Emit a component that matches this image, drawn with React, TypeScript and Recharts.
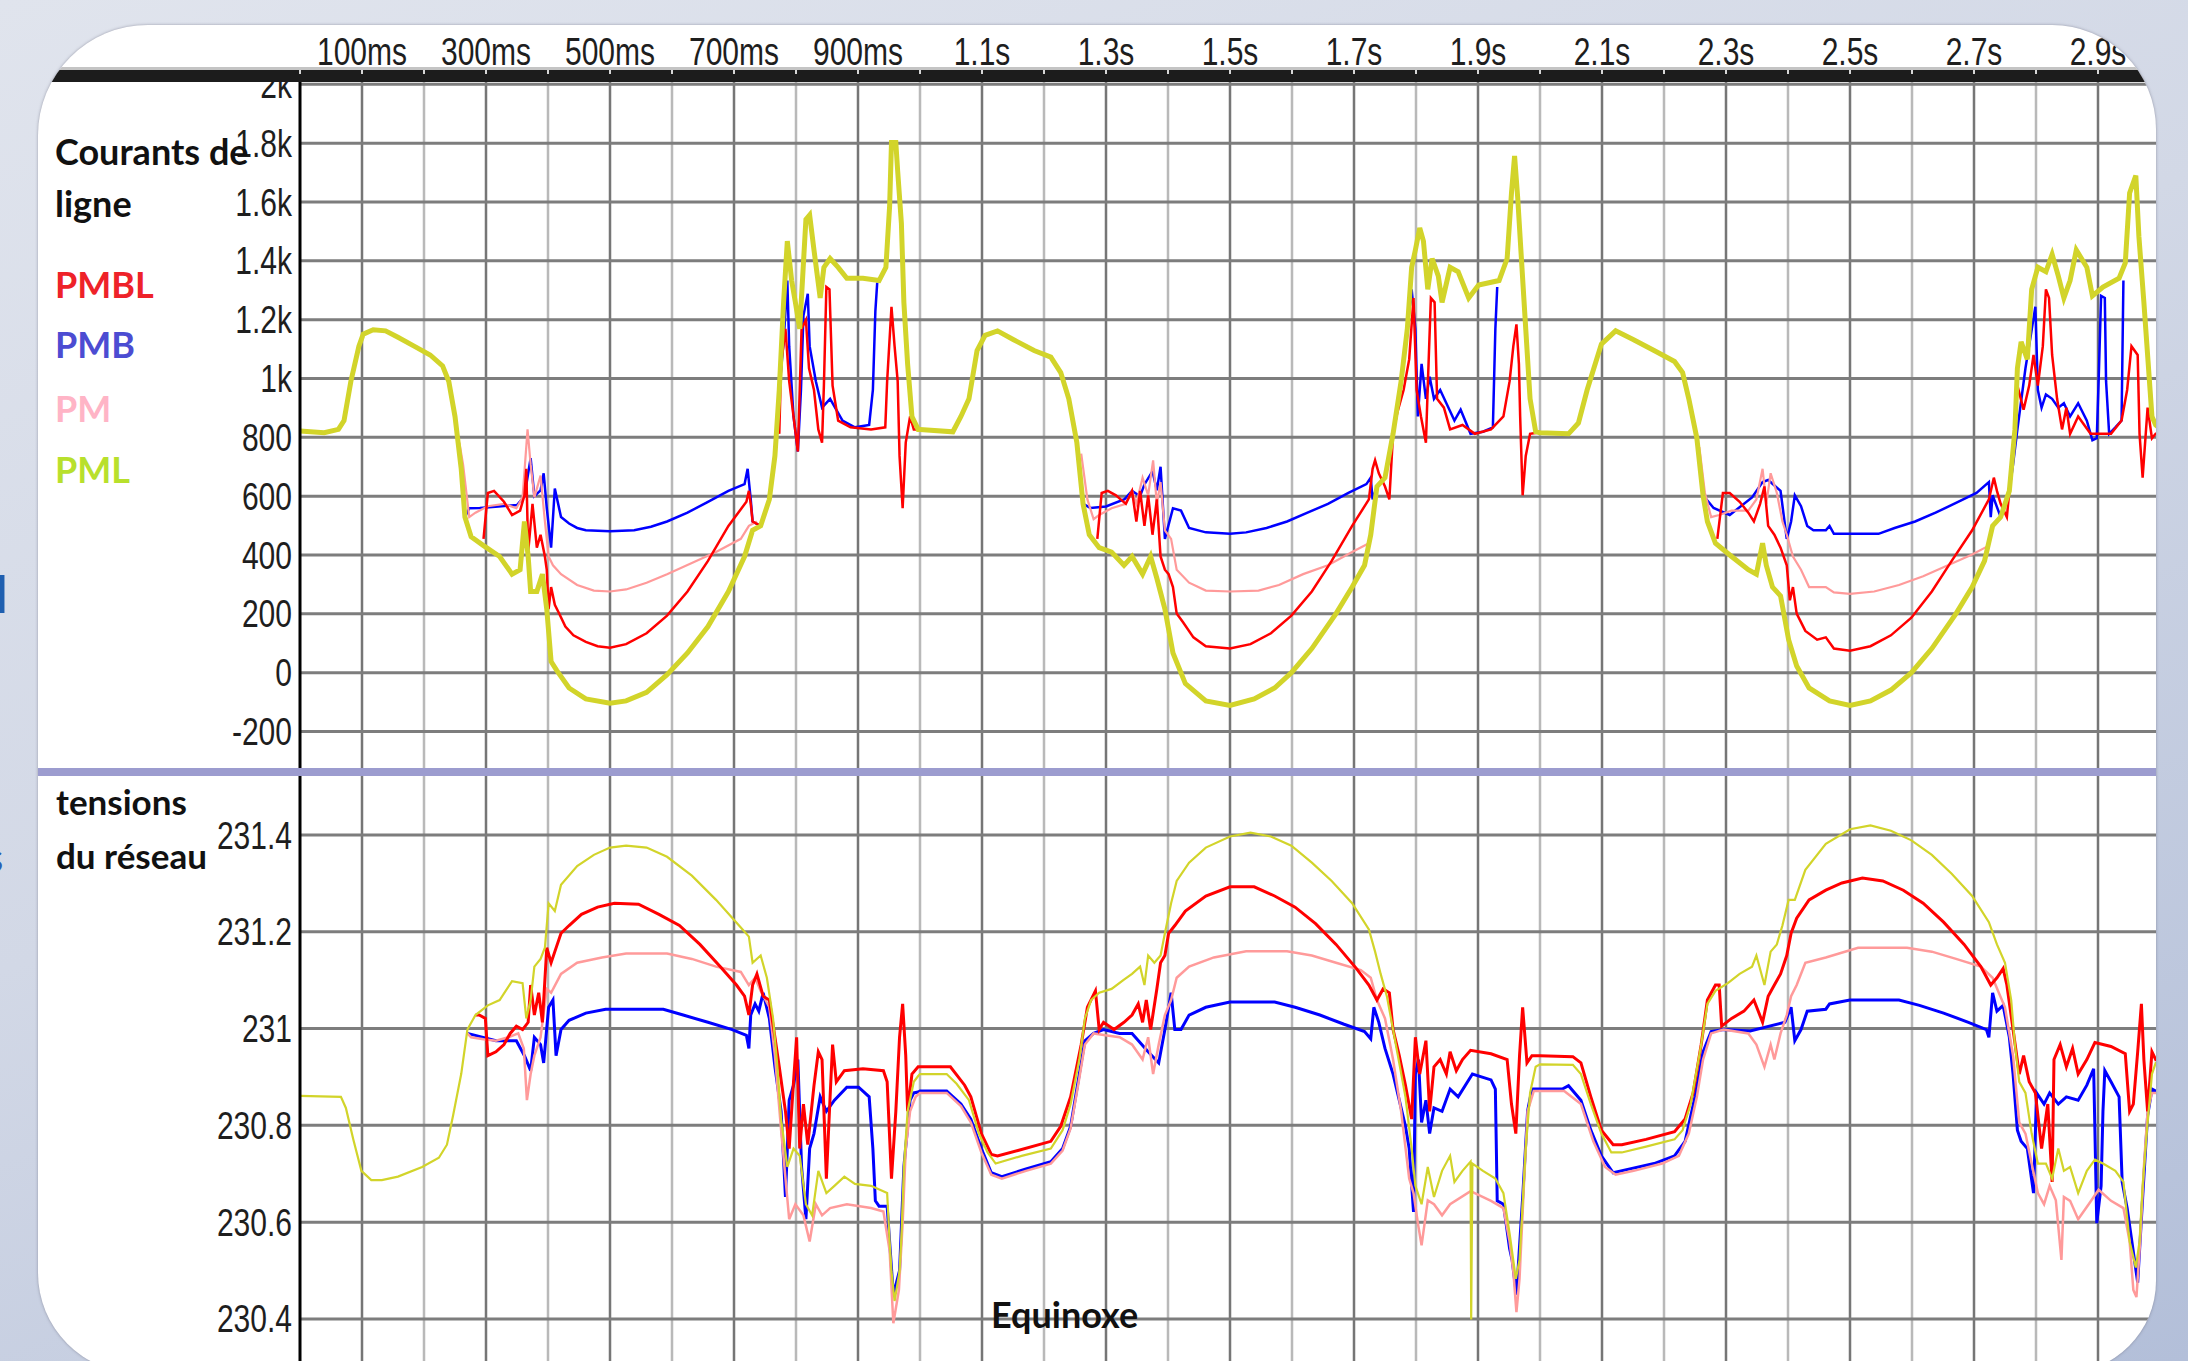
import React from 'react';
import { LineChart, Line, XAxis, YAxis, CartesianGrid } from 'recharts';

type Pt = [number, number | null];

// ---------- axes / tick labels ----------
const timeTicks = [0, 100, 200, 300, 400, 500, 600, 700, 800, 900, 1000, 1100, 1200, 1300, 1400, 1500, 1600, 1700, 1800, 1900, 2000, 2100, 2200, 2300, 2400, 2500, 2600, 2700, 2800, 2900, 3000];
const labelTimes = [100, 300, 500, 700, 900, 1100, 1300, 1500, 1700, 1900, 2100, 2300, 2500, 2700, 2900];
const labelTexts = ['100ms', '300ms', '500ms', '700ms', '900ms', '1.1s', '1.3s', '1.5s', '1.7s', '1.9s', '2.1s', '2.3s', '2.5s', '2.7s', '2.9s'];
const darkTimes = [100, 300, 500, 700, 900, 1100, 1300, 1500, 1700, 1900, 2100, 2300, 2500, 2700, 2900];
const lightTimes = [200, 400, 600, 800, 1000, 1200, 1400, 1600, 1800, 2000, 2200, 2400, 2600, 2800, 3000];

const currentTicks = [2000, 1800, 1600, 1400, 1200, 1000, 800, 600, 400, 200, 0, -200];
const currentTickLabels = ['2k', '1.8k', '1.6k', '1.4k', '1.2k', '1k', '800', '600', '400', '200', '0', '-200'];
const voltageTicks = [231.4, 231.2, 231, 230.8, 230.6, 230.4];
const voltageTickLabels = ['231.4', '231.2', '231', '230.8', '230.6', '230.4'];

// ---------- line currents (A) ----------
const pmlCurrent: Pt[] = [
  [0, 822], [39, 816], [62, 827], [71, 857], [82, 990], [95, 1110], [102, 1151], [118, 1166], [138, 1162], [158, 1140], [184, 1110], [210, 1080], [230, 1043], [240, 990], [250, 871], [260, 693], [266, 529], [276, 462], [296, 432], [322, 395], [342, 335], [355, 350], [362, 514], [368, 395], [372, 276], [382, 276], [391, 335], [398, 216], [405, 38], [414, 8], [434, -52], [461, -89], [500, -104], [526, -96], [559, -67], [592, -7], [625, 67], [658, 157], [691, 276], [717, 395], [730, 484], [743, 499], [757, 589], [766, 737], [773, 961], [780, 1259], [786, 1467], [793, 1333], [799, 1259], [806, 1169], [816, 1541], [822, 1556], [829, 1437], [839, 1274], [845, 1378], [855, 1408], [868, 1378], [882, 1341], [908, 1341], [934, 1333], [945, 1378], [951, 1586], [954, 1802], [961, 1802], [964, 1705], [970, 1527], [974, 1259], [980, 1050], [987, 871], [997, 827],
  [1000, 827], [1053, 819], [1066, 871], [1079, 931], [1092, 1095], [1105, 1147], [1125, 1162], [1151, 1132], [1184, 1095], [1211, 1073], [1227, 1020], [1240, 931], [1253, 782], [1263, 574], [1273, 469], [1289, 425], [1309, 410], [1329, 365], [1342, 395], [1359, 335], [1372, 395], [1382, 321], [1395, 216], [1408, 67], [1428, -37], [1461, -96], [1500, -111], [1539, -89], [1572, -52], [1599, 0], [1632, 82], [1671, 201], [1697, 291], [1717, 365], [1727, 469], [1737, 633], [1750, 663], [1763, 812], [1776, 991], [1786, 1169], [1793, 1378], [1799, 1437], [1806, 1512], [1812, 1467], [1819, 1303], [1826, 1408], [1836, 1348], [1842, 1259], [1855, 1378], [1868, 1363], [1885, 1274], [1901, 1318], [1934, 1333], [1947, 1408], [1954, 1631], [1959, 1757], [1964, 1616], [1970, 1408], [1977, 1169], [1984, 931], [1993, 819],
  [2000, 816], [2046, 812], [2062, 849], [2076, 961], [2099, 1117], [2122, 1162], [2151, 1132], [2184, 1095], [2217, 1058], [2230, 1020], [2240, 931], [2253, 797], [2263, 603], [2270, 514], [2283, 440], [2309, 395], [2336, 350], [2349, 335], [2359, 440], [2365, 365], [2375, 291], [2388, 261], [2401, 112], [2414, 23], [2434, -52], [2467, -96], [2500, -111], [2533, -96], [2566, -59], [2599, 0], [2632, 82], [2671, 201], [2697, 291], [2717, 380], [2730, 499], [2743, 529], [2757, 618], [2766, 827], [2770, 1035], [2776, 1125], [2786, 1065], [2793, 1303], [2803, 1378], [2816, 1363], [2826, 1422], [2836, 1348], [2845, 1274], [2855, 1333], [2865, 1437], [2882, 1378], [2891, 1281], [2908, 1311], [2934, 1341], [2944, 1393], [2951, 1631], [2961, 1690], [2966, 1482], [2974, 1259], [2980, 1080], [2987, 871], [2993, 842], [3000, 830],
];

const pmbCurrent: Pt[] = [
  [266, 529], [273, 559], [290, 560], [320, 565], [350, 570], [362, 600], [372, 729], [378, 600], [388, 620], [393, 678], [398, 560], [405, 425], [411, 626], [421, 529], [434, 507], [447, 492], [461, 484], [500, 481], [539, 484], [566, 496], [592, 514], [625, 544], [658, 581], [691, 618], [717, 641], [722, 693], [727, 589], [730, 514], [743, 499], [757, 589], [766, 737], [773, 961], [780, 1125], [786, 1333], [789, 1110], [796, 871], [803, 752], [808, 961], [812, 1214], [819, 1288], [822, 1110], [832, 991], [842, 901], [855, 931], [875, 857], [895, 834], [918, 842], [924, 961], [928, 1229], [931, 1326],
  [1100, null],
  [1263, 574], [1275, 560], [1300, 565], [1330, 590], [1342, 618], [1355, 600], [1362, 640], [1375, 685], [1382, 620], [1388, 700], [1395, 455], [1408, 559], [1421, 551], [1434, 492], [1461, 477], [1500, 472], [1526, 477], [1559, 492], [1592, 514], [1625, 544], [1658, 574], [1691, 611], [1720, 641], [1727, 663], [1730, 589], [1737, 633], [1750, 663], [1763, 812], [1776, 991], [1786, 1169], [1793, 1303], [1799, 1169], [1803, 871], [1809, 1050], [1816, 931], [1822, 1006], [1829, 931], [1839, 961], [1849, 916], [1862, 857], [1872, 894], [1888, 812], [1908, 819], [1924, 834], [1928, 1169], [1931, 1311],
  [2100, null],
  [2263, 603], [2280, 560], [2306, 536], [2342, 596], [2359, 648], [2368, 655], [2388, 618], [2398, 455], [2405, 514], [2411, 603], [2421, 566], [2431, 499], [2441, 484], [2461, 484], [2467, 499], [2474, 472], [2546, 472], [2572, 492], [2605, 514], [2638, 544], [2671, 577], [2704, 611], [2724, 648], [2727, 529], [2730, 603], [2743, 529], [2757, 618], [2763, 708], [2770, 827], [2783, 1035], [2799, 1244], [2803, 961], [2809, 901], [2816, 946], [2826, 931], [2836, 901], [2845, 916], [2855, 871], [2868, 916], [2882, 857], [2891, 790], [2898, 797], [2901, 991], [2905, 1281], [2911, 1274], [2913, 991], [2918, 812], [2928, 834], [2938, 857], [2941, 1333],
];

const pmblCurrent: Pt[] = [
  [296, 455], [303, 611], [313, 618], [329, 581], [342, 536], [355, 551], [362, 603], [365, 693], [368, 410], [375, 574], [382, 425], [388, 469], [395, 395], [398, 350], [401, 216], [405, 291], [411, 231], [418, 201], [428, 157], [441, 127], [461, 105], [480, 90], [500, 85], [526, 97], [559, 134], [592, 194], [625, 276], [658, 380], [691, 499], [720, 581], [724, 618], [727, 574], [730, 514], [743, 499], [757, 589], [766, 737], [770, 871], [773, 812], [776, 1050], [783, 1169], [789, 991], [796, 871], [803, 752], [809, 1169], [816, 1199], [821, 1035], [829, 961], [836, 827], [842, 782], [845, 976], [849, 1311], [854, 1303], [859, 976], [868, 857], [888, 834], [921, 827], [944, 834], [947, 991], [954, 1244], [959, 1110], [964, 991], [967, 737], [972, 559], [977, 782], [984, 871], [990, 827], [997, 827],
  [1100, null],
  [1286, 455], [1293, 611], [1303, 618], [1316, 603], [1332, 574], [1342, 618], [1349, 514], [1355, 618], [1362, 499], [1368, 603], [1375, 469], [1382, 589], [1388, 395], [1395, 350], [1401, 335], [1408, 291], [1414, 201], [1424, 172], [1441, 120], [1461, 90], [1500, 82], [1533, 97], [1566, 134], [1599, 194], [1632, 276], [1664, 380], [1697, 499], [1724, 589], [1730, 693], [1734, 722], [1740, 678], [1750, 633], [1757, 589], [1763, 812], [1770, 886], [1780, 961], [1789, 1065], [1796, 1274], [1801, 961], [1808, 871], [1816, 782], [1819, 976], [1824, 1274], [1830, 1259], [1834, 931], [1845, 901], [1855, 827], [1875, 842], [1895, 812], [1921, 827], [1941, 871], [1951, 991], [1957, 1110], [1962, 1184], [1966, 1050], [1968, 871], [1972, 603], [1977, 737], [1984, 812], [1995, 816],
  [2100, null],
  [2286, 455], [2295, 611], [2306, 611], [2322, 581], [2336, 544], [2345, 514], [2355, 574], [2362, 633], [2368, 499], [2378, 469], [2388, 425], [2398, 365], [2403, 246], [2408, 291], [2414, 201], [2428, 142], [2447, 112], [2461, 120], [2474, 82], [2500, 75], [2533, 90], [2566, 127], [2599, 187], [2632, 276], [2664, 380], [2697, 484], [2724, 589], [2732, 663], [2737, 618], [2743, 574], [2753, 529], [2757, 618], [2766, 827], [2770, 976], [2780, 894], [2789, 976], [2796, 1080], [2803, 976], [2811, 1110], [2816, 1303], [2821, 1274], [2826, 1080], [2834, 931], [2842, 827], [2849, 901], [2855, 812], [2868, 871], [2888, 812], [2921, 812], [2938, 857], [2947, 961], [2954, 1110], [2964, 1080], [2967, 812], [2972, 663], [2980, 901], [2987, 797], [2993, 812], [3000, 812],
];

const pmCurrent: Pt[] = [
  [257, 782], [263, 708], [273, 529], [283, 544], [303, 566], [329, 574], [349, 559], [359, 596], [367, 827], [372, 708], [378, 596], [388, 670], [395, 514], [401, 395], [408, 365], [421, 335], [447, 298], [474, 279], [500, 276], [526, 283], [559, 306], [592, 335], [632, 373], [671, 410], [711, 455], [724, 499], [737, 514],
  [1100, null],
  [1260, 745], [1270, 589], [1280, 522], [1289, 536], [1309, 559], [1332, 574], [1342, 618], [1349, 574], [1359, 663], [1368, 603], [1376, 722], [1382, 574], [1388, 648], [1395, 484], [1405, 455], [1414, 350], [1434, 306], [1461, 279], [1500, 276], [1546, 279], [1579, 298], [1618, 335], [1658, 365], [1697, 410], [1724, 440],
  [2100, null],
  [2257, 767], [2266, 611], [2276, 529], [2289, 536], [2309, 551], [2336, 551], [2349, 589], [2359, 693], [2365, 574], [2372, 678], [2382, 611], [2391, 514], [2398, 469], [2408, 395], [2421, 350], [2434, 291], [2461, 291], [2474, 273], [2500, 268], [2539, 276], [2579, 298], [2618, 328], [2658, 365], [2697, 402], [2724, 432],
];

// ---------- network voltages (V) ----------
const pmlVoltage: Pt[] = [
  [0, 230.861], [66, 230.859], [74, 230.836], [86, 230.771], [99, 230.706], [115, 230.687], [132, 230.687], [158, 230.694], [197, 230.714], [224, 230.733], [237, 230.76], [247, 230.821], [260, 230.906], [270, 230.998], [283, 231.028], [303, 231.048], [322, 231.059], [342, 231.098], [359, 231.094], [365, 231.021], [372, 231.059], [378, 231.128], [388, 231.144], [395, 231.167], [401, 231.259], [411, 231.243], [421, 231.297], [447, 231.336], [474, 231.359], [500, 231.374], [526, 231.378], [559, 231.374], [592, 231.355], [632, 231.316], [671, 231.266], [711, 231.209], [724, 231.19], [730, 231.136], [743, 231.151], [753, 231.105], [763, 231.021], [770, 230.921], [776, 230.813], [786, 230.714], [796, 230.752], [806, 230.737], [816, 230.637], [826, 230.614], [836, 230.706], [849, 230.66], [862, 230.675], [878, 230.694], [895, 230.679], [921, 230.675], [947, 230.66], [951, 230.56], [954, 230.498], [959, 230.437], [967, 230.498], [970, 230.568], [974, 230.714], [980, 230.829], [990, 230.89], [997, 230.902],
  [1000, 230.906], [1043, 230.906], [1059, 230.886], [1079, 230.852], [1095, 230.783], [1109, 230.744], [1122, 230.721], [1164, 230.737], [1211, 230.752], [1230, 230.79], [1243, 230.844], [1257, 230.936], [1266, 231.021], [1276, 231.059], [1289, 231.074], [1309, 231.082], [1329, 231.101], [1342, 231.113], [1355, 231.128], [1362, 231.09], [1368, 231.151], [1378, 231.136], [1388, 231.151], [1395, 231.197], [1405, 231.259], [1414, 231.305], [1434, 231.343], [1461, 231.374], [1500, 231.397], [1533, 231.405], [1566, 231.397], [1599, 231.378], [1632, 231.343], [1664, 231.305], [1697, 231.259], [1724, 231.205], [1734, 231.159], [1743, 231.113], [1753, 231.067], [1763, 230.998], [1773, 230.929], [1783, 230.859], [1793, 230.752], [1799, 230.675], [1809, 230.637], [1819, 230.714], [1829, 230.652], [1842, 230.706], [1855, 230.737], [1862, 230.683], [1875, 230.706], [1888, 230.725], [1889, 230.399], [1891, 230.721], [1908, 230.706], [1928, 230.69], [1941, 230.66], [1951, 230.576], [1961, 230.483], [1967, 230.522], [1972, 230.637], [1977, 230.752], [1984, 230.867], [1993, 230.921],
  [2000, 230.926], [2053, 230.925], [2066, 230.906], [2082, 230.844], [2099, 230.783], [2115, 230.744], [2132, 230.744], [2171, 230.756], [2217, 230.771], [2230, 230.79], [2243, 230.844], [2260, 230.967], [2270, 231.051], [2283, 231.078], [2303, 231.094], [2322, 231.113], [2342, 231.128], [2349, 231.151], [2362, 231.09], [2372, 231.159], [2382, 231.174], [2391, 231.213], [2401, 231.266], [2411, 231.266], [2428, 231.328], [2461, 231.382], [2500, 231.412], [2533, 231.42], [2566, 231.409], [2599, 231.389], [2632, 231.359], [2664, 231.32], [2697, 231.274], [2724, 231.22], [2737, 231.174], [2750, 231.136], [2760, 231.059], [2766, 230.967], [2773, 230.89], [2783, 230.867], [2793, 230.783], [2803, 230.721], [2816, 230.721], [2826, 230.69], [2836, 230.752], [2845, 230.706], [2855, 230.714], [2868, 230.66], [2882, 230.706], [2895, 230.729], [2908, 230.721], [2928, 230.706], [2941, 230.683], [2951, 230.56], [2961, 230.506], [2967, 230.56], [2972, 230.675], [2979, 230.79], [2987, 230.906], [2993, 230.929], [3000, 230.93],
];

const pmblVoltage: Pt[] = [
  [283, 231.028], [289, 231.028], [299, 231.021], [303, 230.944], [316, 230.952], [329, 230.967], [339, 230.99], [349, 231.005], [359, 230.998], [368, 231.013], [372, 231.09], [378, 231.028], [385, 231.074], [391, 231.013], [398, 231.167], [405, 231.136], [411, 231.159], [421, 231.197], [434, 231.213], [454, 231.236], [480, 231.251], [507, 231.259], [546, 231.257], [579, 231.236], [612, 231.213], [645, 231.174], [678, 231.128], [704, 231.09], [717, 231.067], [724, 231.028], [730, 231.09], [737, 231.113], [747, 231.067], [757, 231.059], [766, 230.982], [773, 230.921], [783, 230.829], [789, 230.752], [796, 230.89], [801, 230.982], [806, 230.752], [812, 230.844], [819, 230.76], [829, 230.882], [836, 230.952], [842, 230.936], [849, 230.69], [855, 230.859], [859, 230.967], [865, 230.89], [878, 230.913], [908, 230.917], [941, 230.913], [947, 230.89], [954, 230.69], [961, 230.829], [967, 230.982], [972, 231.051], [977, 230.944], [980, 230.829], [987, 230.906], [997, 230.921],
  [1000, 230.921], [1049, 230.921], [1072, 230.883], [1082, 230.859], [1099, 230.783], [1115, 230.74], [1125, 230.737], [1158, 230.748], [1211, 230.767], [1227, 230.798], [1243, 230.859], [1260, 230.967], [1270, 231.044], [1283, 231.078], [1289, 230.998], [1296, 231.013], [1313, 230.998], [1329, 231.013], [1342, 231.028], [1352, 231.051], [1359, 231.013], [1365, 231.059], [1372, 230.998], [1382, 231.082], [1388, 231.136], [1395, 231.151], [1401, 231.197], [1411, 231.213], [1428, 231.243], [1461, 231.274], [1500, 231.293], [1539, 231.293], [1572, 231.274], [1605, 231.251], [1638, 231.217], [1671, 231.174], [1704, 231.124], [1724, 231.09], [1737, 231.059], [1747, 231.082], [1757, 231.074], [1763, 230.998], [1773, 230.944], [1783, 230.883], [1793, 230.813], [1799, 230.982], [1806, 230.906], [1816, 230.975], [1822, 230.829], [1829, 230.921], [1839, 230.936], [1849, 230.906], [1855, 230.952], [1865, 230.913], [1875, 230.936], [1888, 230.955], [1921, 230.948], [1947, 230.936], [1954, 230.844], [1961, 230.783], [1967, 230.944], [1972, 231.044], [1979, 230.929], [1987, 230.944], [1995, 230.944],
  [2000, 230.944], [2053, 230.942], [2066, 230.929], [2082, 230.859], [2099, 230.79], [2118, 230.76], [2132, 230.76], [2171, 230.771], [2217, 230.787], [2234, 230.813], [2247, 230.867], [2260, 230.967], [2270, 231.059], [2283, 231.09], [2289, 231.09], [2293, 231.005], [2309, 231.021], [2329, 231.036], [2345, 231.059], [2359, 231.013], [2368, 231.067], [2378, 231.09], [2388, 231.113], [2398, 231.151], [2405, 231.197], [2414, 231.228], [2434, 231.266], [2461, 231.286], [2487, 231.301], [2520, 231.311], [2553, 231.305], [2586, 231.286], [2618, 231.259], [2651, 231.22], [2684, 231.174], [2711, 231.128], [2727, 231.09], [2737, 231.105], [2747, 231.124], [2753, 231.09], [2763, 230.998], [2773, 230.906], [2780, 230.944], [2789, 230.89], [2799, 230.867], [2809, 230.752], [2819, 230.844], [2826, 230.683], [2829, 230.936], [2839, 230.967], [2849, 230.921], [2859, 230.959], [2868, 230.906], [2882, 230.936], [2895, 230.971], [2921, 230.963], [2944, 230.948], [2951, 230.829], [2957, 230.844], [2964, 230.952], [2970, 231.051], [2974, 230.936], [2980, 230.829], [2987, 230.952], [2993, 230.936], [3000, 230.94],
];

const pmbVoltage: Pt[] = [
  [270, 230.99], [316, 230.975], [349, 230.975], [362, 230.944], [372, 230.913], [378, 230.982], [388, 230.967], [393, 230.929], [401, 231.044], [408, 231.059], [413, 230.944], [421, 230.998], [434, 231.017], [461, 231.032], [493, 231.04], [586, 231.04], [618, 231.028], [658, 231.013], [697, 230.998], [720, 230.986], [724, 230.959], [727, 231.028], [734, 231.051], [740, 231.036], [747, 231.074], [757, 231.021], [766, 230.921], [776, 230.829], [783, 230.652], [789, 230.852], [796, 230.883], [803, 230.936], [809, 230.714], [816, 230.606], [822, 230.752], [829, 230.783], [839, 230.859], [849, 230.829], [862, 230.852], [882, 230.879], [901, 230.879], [918, 230.859], [924, 230.752], [928, 230.644], [934, 230.633], [947, 230.633], [951, 230.56], [957, 230.45], [967, 230.5], [974, 230.714], [984, 230.852], [990, 230.867], [997, 230.869],
  [1000, 230.871], [1043, 230.871], [1066, 230.844], [1082, 230.813], [1099, 230.752], [1115, 230.702], [1132, 230.694], [1171, 230.71], [1211, 230.725], [1230, 230.752], [1243, 230.798], [1257, 230.906], [1266, 230.975], [1280, 230.99], [1296, 230.998], [1322, 230.99], [1342, 230.99], [1368, 230.952], [1385, 230.929], [1395, 230.998], [1405, 231.074], [1411, 230.998], [1421, 230.998], [1434, 231.028], [1461, 231.044], [1500, 231.055], [1572, 231.055], [1605, 231.044], [1645, 231.028], [1684, 231.009], [1717, 230.994], [1727, 230.979], [1732, 231.044], [1740, 231.013], [1750, 230.959], [1763, 230.906], [1773, 230.852], [1783, 230.798], [1789, 230.752], [1796, 230.621], [1799, 230.906], [1804, 230.936], [1809, 230.806], [1816, 230.852], [1822, 230.783], [1829, 230.836], [1842, 230.829], [1855, 230.875], [1868, 230.859], [1891, 230.906], [1921, 230.894], [1928, 230.875], [1931, 230.644], [1941, 230.637], [1951, 230.545], [1955, 230.522], [1962, 230.45], [1972, 230.65], [1980, 230.83], [1987, 230.875], [1995, 230.875],
  [2000, 230.875], [2036, 230.875], [2046, 230.882], [2066, 230.852], [2082, 230.79], [2099, 230.737], [2118, 230.702], [2145, 230.71], [2184, 230.721], [2217, 230.737], [2234, 230.767], [2250, 230.859], [2263, 230.952], [2276, 230.994], [2296, 230.998], [2339, 230.995], [2395, 231.013], [2405, 231.044], [2411, 230.975], [2421, 230.998], [2431, 231.036], [2461, 231.04], [2467, 231.051], [2500, 231.059], [2579, 231.059], [2612, 231.048], [2651, 231.032], [2691, 231.013], [2720, 230.998], [2724, 230.982], [2730, 231.074], [2737, 231.036], [2747, 231.048], [2757, 230.982], [2763, 230.906], [2770, 230.79], [2776, 230.767], [2786, 230.752], [2796, 230.66], [2801, 230.867], [2813, 230.844], [2822, 230.867], [2836, 230.844], [2849, 230.859], [2868, 230.852], [2882, 230.883], [2893, 230.917], [2898, 230.598], [2905, 230.675], [2908, 230.829], [2911, 230.913], [2921, 230.89], [2934, 230.859], [2939, 230.683], [2947, 230.629], [2964, 230.475], [2972, 230.65], [2980, 230.82], [2987, 230.875], [2993, 230.871], [3000, 230.87],
];

const pmVoltage: Pt[] = [
  [270, 230.99], [276, 230.982], [296, 230.978], [316, 230.975], [336, 230.982], [352, 230.99], [361, 230.959], [366, 230.852], [372, 230.906], [378, 230.944], [388, 230.982], [398, 231.082], [405, 231.074], [421, 231.113], [447, 231.136], [487, 231.147], [526, 231.155], [592, 231.155], [632, 231.144], [671, 231.128], [711, 231.117], [724, 231.09], [734, 231.105], [743, 231.078], [757, 231.044], [766, 230.944], [776, 230.79], [789, 230.606], [799, 230.637], [812, 230.614], [822, 230.56], [832, 230.637], [842, 230.614], [855, 230.629], [882, 230.637], [921, 230.629], [941, 230.622], [951, 230.541], [957, 230.391], [966, 230.46], [972, 230.598], [977, 230.752], [984, 230.829], [993, 230.859],
  [1000, 230.867], [1043, 230.867], [1066, 230.84], [1082, 230.806], [1099, 230.744], [1115, 230.698], [1132, 230.69], [1171, 230.706], [1211, 230.721], [1230, 230.748], [1243, 230.794], [1257, 230.898], [1266, 230.967], [1280, 230.99], [1299, 230.986], [1322, 230.982], [1342, 230.967], [1359, 230.936], [1368, 230.982], [1376, 230.906], [1385, 230.967], [1395, 231.028], [1405, 231.059], [1414, 231.105], [1434, 231.128], [1474, 231.147], [1526, 231.16], [1592, 231.16], [1632, 231.151], [1671, 231.136], [1711, 231.121], [1727, 231.105], [1737, 231.059], [1750, 231.021], [1763, 230.936], [1776, 230.829], [1789, 230.69], [1796, 230.66], [1803, 230.598], [1809, 230.552], [1819, 230.645], [1829, 230.637], [1842, 230.614], [1855, 230.637], [1888, 230.664], [1921, 230.644], [1941, 230.629], [1951, 230.56], [1957, 230.498], [1962, 230.414], [1967, 230.483], [1974, 230.675], [1980, 230.829], [1990, 230.871],
  [2000, 230.871], [2039, 230.871], [2066, 230.844], [2086, 230.767], [2105, 230.714], [2122, 230.698], [2151, 230.706], [2197, 230.721], [2224, 230.737], [2240, 230.783], [2253, 230.859], [2263, 230.936], [2276, 230.99], [2296, 230.998], [2336, 230.99], [2349, 230.967], [2362, 230.921], [2372, 230.967], [2378, 230.936], [2388, 230.99], [2398, 231.028], [2405, 231.067], [2414, 231.09], [2428, 231.136], [2461, 231.147], [2513, 231.167], [2592, 231.167], [2632, 231.159], [2671, 231.144], [2711, 231.128], [2730, 231.105], [2740, 231.074], [2750, 231.044], [2763, 230.944], [2773, 230.806], [2783, 230.783], [2793, 230.721], [2803, 230.66], [2813, 230.637], [2822, 230.675], [2832, 230.645], [2841, 230.522], [2845, 230.652], [2855, 230.644], [2868, 230.606], [2885, 230.637], [2901, 230.667], [2921, 230.644], [2941, 230.629], [2951, 230.56], [2957, 230.46], [2962, 230.445], [2968, 230.56], [2974, 230.714], [2980, 230.829], [2987, 230.867], [2993, 230.867], [3000, 230.867],
];

// ---------- helpers ----------
const rows = (pts: Pt[]) => pts.map(([t, v]) => ({ t, v }));

const COLORS = { pmbl: '#ff0000', pmb: '#0000ff', pm: '#ff9a9a', pml: '#d2d42a' };
const TICK_FONT = '"Liberation Sans", Arial, sans-serif';
const TITLE_FONT = 'Lato, "Open Sans", sans-serif';

const makeLeftTick = (values: number[], labels: string[]) => (props: any) => {
  const { x, y, payload } = props;
  const i = values.findIndex((v) => Math.abs(v - payload.value) < 1e-6);
  return (
    <text
      x={0}
      y={0}
      transform={`translate(${x},${y + 13.5}) scale(0.79,1)`}
      textAnchor="end"
      fontSize={38}
      fontFamily={TICK_FONT}
      fill="#1e1e1e"
    >
      {i >= 0 ? labels[i] : ''}
    </text>
  );
};

const TopTick = (props: any) => {
  const { x, y, payload } = props;
  const i = labelTimes.indexOf(payload.value);
  return (
    <g>
      {i >= 0 && (
        <text
          x={0}
          y={0}
          transform={`translate(${x},${y - 17}) scale(0.79,1)`}
          textAnchor="middle"
          fontSize={38}
          fontFamily={TICK_FONT}
          fill="#1e1e1e"
        >
          {labelTexts[i]}
        </text>
      )}
    </g>
  );
};

// small notches on the black time bar
const BarTick = (props: any) => {
  const { x, y } = props;
  return <line x1={x} x2={x} y1={y - 12} y2={y - 8} stroke="#d6d6d6" strokeWidth={2} />;
};

const currentTick = makeLeftTick(currentTicks, currentTickLabels);
const voltageTick = makeLeftTick(voltageTicks, voltageTickLabels);

const grids = (hValues: number[]) => [
  <CartesianGrid key="gl" horizontal={false} verticalValues={lightTimes} stroke="#b9b9b9" strokeWidth={2.5} />,
  <CartesianGrid key="gd" horizontal={false} verticalValues={darkTimes} stroke="#767676" strokeWidth={2.5} />,
  <CartesianGrid key="gh" vertical={false} horizontalValues={hValues} stroke="#7d7d7d" strokeWidth={3} />,
];

export default function App() {
  return (
    <div
      style={{
        position: 'absolute',
        left: 0,
        top: 0,
        width: 2188,
        height: 1361,
        overflow: 'hidden',
        background: 'linear-gradient(160deg, #e0e4ed 0%, #d2d8e6 45%, #b3bfd9 100%)',
      }}
    >
      {/* fragments of the slide behind the card */}
      <svg width={2188} height={1361} style={{ position: 'absolute', left: 0, top: 0 }}>
        <text x={-4} y={613} fontSize={52} fontFamily={TITLE_FONT} fill="#1f5fb0">l</text>
        <text x={-14} y={872} fontSize={40} fontFamily={TITLE_FONT} fill="#2a5fb4">s</text>
      </svg>

      <div
        style={{
          position: 'absolute',
          left: 38,
          top: 25,
          width: 2118,
          height: 1348,
          background: '#ffffff',
          borderRadius: '110px 104px 92px 100px',
          overflow: 'hidden',
          boxShadow: '0 0 3px rgba(90,90,110,0.55)',
        }}
      >
        <div style={{ position: 'absolute', left: -38, top: -25, width: 2188, height: 1361 }}>
          {/* currents panel */}
          <div style={{ position: 'absolute', left: 0, top: 0 }}>
            <LineChart width={2188} height={776} margin={{ top: 0, right: 28, bottom: 8, left: 180 }}>
              {grids(currentTicks)}
              <XAxis
                type="number"
                dataKey="t"
                orientation="top"
                domain={[0, 3000]}
                allowDataOverflow
                ticks={timeTicks}
                interval={0}
                height={82}
                tickSize={0}
                tickMargin={0}
                axisLine={false}
                tickLine={false}
                tick={TopTick}
              />
              <YAxis
                type="number"
                domain={[-324, 2008]}
                allowDataOverflow
                ticks={currentTicks}
                interval={0}
                width={120}
                tickSize={0}
                tickMargin={8}
                tickLine={false}
                axisLine={{ stroke: '#000000', strokeWidth: 3 }}
                tick={currentTick}
              />
              <Line data={rows(pmbCurrent)} dataKey="v" stroke={COLORS.pmb} strokeWidth={2.5} dot={false} isAnimationActive={false} />
              <Line data={rows(pmCurrent)} dataKey="v" stroke={COLORS.pm} strokeWidth={2.2} dot={false} isAnimationActive={false} />
              <Line data={rows(pmblCurrent)} dataKey="v" stroke={COLORS.pmbl} strokeWidth={2.5} dot={false} isAnimationActive={false} />
              <Line data={rows(pmlCurrent)} dataKey="v" stroke={COLORS.pml} strokeWidth={5} dot={false} isAnimationActive={false} />
            </LineChart>
          </div>

          {/* voltages panel */}
          <div style={{ position: 'absolute', left: 0, top: 776 }}>
            <LineChart width={2188} height={585} margin={{ top: 0, right: 28, bottom: 0, left: 180 }}>
              {grids(voltageTicks)}
              <XAxis type="number" dataKey="t" domain={[0, 3000]} allowDataOverflow ticks={timeTicks} interval={0} hide />
              <YAxis
                type="number"
                domain={[230.313, 231.522]}
                allowDataOverflow
                ticks={voltageTicks}
                interval={0}
                width={120}
                tickSize={0}
                tickMargin={8}
                tickLine={false}
                axisLine={{ stroke: '#000000', strokeWidth: 3 }}
                tick={voltageTick}
              />
              <Line data={rows(pmbVoltage)} dataKey="v" stroke={COLORS.pmb} strokeWidth={3} dot={false} isAnimationActive={false} />
              <Line data={rows(pmVoltage)} dataKey="v" stroke={COLORS.pm} strokeWidth={2.5} dot={false} isAnimationActive={false} />
              <Line data={rows(pmblVoltage)} dataKey="v" stroke={COLORS.pmbl} strokeWidth={3} dot={false} isAnimationActive={false} />
              <Line data={rows(pmlVoltage)} dataKey="v" stroke={COLORS.pml} strokeWidth={2.2} dot={false} isAnimationActive={false} />
            </LineChart>
          </div>

          {/* overlay: time bar, separator, titles, legend */}
          <svg width={2188} height={1361} style={{ position: 'absolute', left: 0, top: 0, pointerEvents: 'none' }}>
            <rect x={0} y={67} width={2188} height={3} fill="#c4c4c4" />
            <rect x={0} y={70} width={2188} height={12} fill="#1c1c1c" />
            <rect x={0} y={768} width={2188} height={8} fill="#9c9ccf" />

            <text x={55} y={165} fontSize={36} fontWeight={700} fontFamily={TITLE_FONT} fill="#111">Courants de</text>
            <text x={55} y={217} fontSize={36} fontWeight={700} fontFamily={TITLE_FONT} fill="#111">ligne</text>

            <text x={55} y={298} fontSize={36} fontWeight={700} fontFamily={TITLE_FONT} fill="#ee2229">PMBL</text>
            <text x={55} y={358} fontSize={36} fontWeight={700} fontFamily={TITLE_FONT} fill="#4c4cd2">PMB</text>
            <text x={55} y={422} fontSize={36} fontWeight={700} fontFamily={TITLE_FONT} fill="#ffb4c6">PM</text>
            <text x={55} y={483} fontSize={36} fontWeight={700} fontFamily={TITLE_FONT} fill="#b8e02c">PML</text>

            <text x={56} y={815} fontSize={35} fontWeight={700} fontFamily={TITLE_FONT} fill="#111">tensions</text>
            <text x={56} y={869} fontSize={35} fontWeight={700} fontFamily={TITLE_FONT} fill="#111">du réseau</text>

            <text x={991} y={1328} fontSize={36} fontWeight={700} fontFamily={TITLE_FONT} fill="#111">Equinoxe</text>
          </svg>

          {/* notches on the time bar, drawn through the library's time scale */}
          <div style={{ position: 'absolute', left: 0, top: 0, pointerEvents: 'none' }}>
            <LineChart width={2188} height={776} margin={{ top: 0, right: 28, bottom: 8, left: 180 }}>
              <XAxis
                type="number"
                dataKey="t"
                orientation="top"
                domain={[0, 3000]}
                allowDataOverflow
                ticks={timeTicks}
                interval={0}
                height={82}
                tickSize={0}
                tickMargin={0}
                axisLine={false}
                tickLine={false}
                tick={BarTick}
              />
              <YAxis type="number" domain={[-324, 2008]} width={120} axisLine={false} tickLine={false} tick={false} />
            </LineChart>
          </div>
        </div>
      </div>
    </div>
  );
}
